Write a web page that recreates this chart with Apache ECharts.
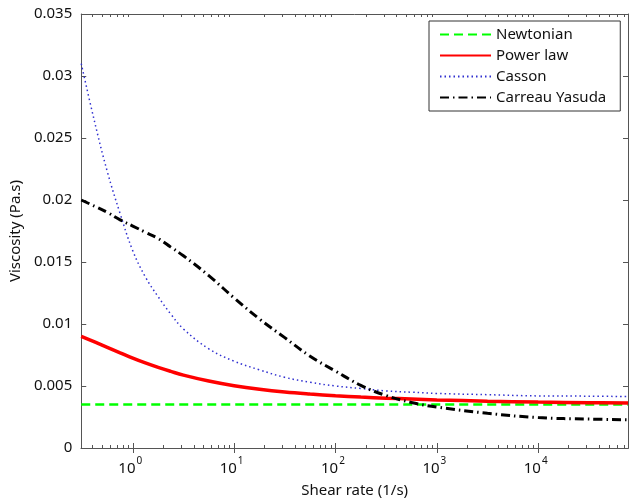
<!DOCTYPE html>
<html>
<head>
<meta charset="utf-8">
<script src="https://cdn.jsdelivr.net/npm/echarts@6/dist/echarts.min.js"></script>
<style>
  html, body { margin: 0; padding: 0; background: #fff; }
  #chart { width: 639px; height: 504px; }
</style>
</head>
<body>
<div id="chart"></div>
<script>
// shear rate samples (1/s)
const shearRate = [0.31, 0.42, 0.56, 0.75, 1, 1.33, 1.78, 2.37, 3.16, 5.62, 10, 17.8, 31.6, 56.2,
  100, 178, 316, 562, 1000, 3162, 10000, 31623, 77000]

// viscosity (Pa.s) for each model
const newtonian = [0.0035, 0.0035, 0.0035, 0.0035, 0.0035, 0.0035, 0.0035, 0.0035, 0.0035, 0.0035, 0.0035, 0.0035,
  0.0035, 0.0035, 0.0035, 0.0035, 0.0035, 0.0035, 0.0035, 0.0035, 0.0035, 0.0035, 0.0035]
const powerLaw = [0.00900, 0.00855, 0.00812, 0.00768, 0.00725, 0.00686, 0.00650, 0.00618, 0.00588, 0.00540,
  0.00502, 0.00473, 0.00451, 0.00435, 0.00422, 0.00411, 0.00402, 0.00395, 0.00388, 0.00378, 0.00370,
  0.00365, 0.00362]
const casson = [0.0310, 0.0263, 0.0223, 0.0189, 0.0159, 0.0138, 0.0122, 0.0108, 0.0096, 0.0080, 0.0070,
  0.0063, 0.0057, 0.0053, 0.0050, 0.0048, 0.0046, 0.0045, 0.0044, 0.0043, 0.0042, 0.00418, 0.00415]
const carreauYasuda = [0.0200, 0.0195, 0.0190, 0.0184, 0.0179, 0.0174, 0.0169, 0.0162, 0.0155, 0.0139, 0.0121,
  0.0104, 0.0089, 0.0074, 0.0062, 0.00505, 0.00423, 0.00367, 0.0033, 0.0028, 0.00245, 0.00233, 0.00228]

const seriesNames = ['Newtonian', 'Power law', 'Casson', 'Carreau Yasuda']
const xMajorTicks = [1, 10, 100, 1000, 10000]
const xMinorSteps = [2, 3, 4, 5, 6, 7, 8, 9]
const yTicks = { min: 0, max: 0.035, step: 0.005 }

// minor tick positions between the decades (0.3 .. 90000)
const xMinorTicks = []
;[0.1, 1, 10, 100, 1000, 10000].forEach((d) => {
  xMinorSteps.forEach((m) => {
    const v = d * m
    if (v >= shearRate[0] && v <= shearRate[shearRate.length - 1]) xMinorTicks.push(v)
  })
})

const font = 'Noto Sans'
const axisColor = '#555'
const textColor = '#111'

function pairs(values) {
  return shearRate.map((x, i) => [x, values[i]])
}

const chart = echarts.init(document.getElementById('chart'), null, { renderer: 'canvas' })

function xAxisOf(position, ticks, tickLen, withLabels) {
  const axis = {
    type: 'log',
    position: position,
    min: shearRate[0],
    max: shearRate[shearRate.length - 1],
    axisLine: { show: true, lineStyle: { color: axisColor, width: 1 } },
    axisTick: { show: true, inside: true, length: tickLen, customValues: ticks, lineStyle: { color: axisColor } },
    axisLabel: { show: false },
    splitLine: { show: false },
  }
  if (withLabels) {
    axis.name = 'Shear rate (1/s)'
    axis.nameLocation = 'middle'
    axis.nameGap = 33
    axis.nameTextStyle = { fontFamily: font, fontSize: 15, color: textColor }
    axis.axisLabel = {
      show: true,
      margin: 8,
      customValues: ticks,
      formatter: (v) => '{b|10}{sup|' + Math.round(Math.log10(v)) + '}',
      rich: {
        b: { fontFamily: font, fontSize: 15, color: textColor, lineHeight: 20, verticalAlign: 'bottom' },
        sup: { fontFamily: font, fontSize: 10, color: textColor, lineHeight: 10, verticalAlign: 'top', padding: [0, 5, 12, 1] },
      },
    }
  }
  return axis
}

function yAxisOf(position, withLabels) {
  const axis = {
    type: 'value',
    position: position,
    min: yTicks.min,
    max: yTicks.max,
    interval: yTicks.step,
    axisLine: { show: true, lineStyle: { color: axisColor, width: 1 } },
    axisTick: { show: true, inside: true, length: 5, lineStyle: { color: axisColor } },
    axisLabel: { show: false },
    splitLine: { show: false },
  }
  if (withLabels) {
    axis.name = 'Viscosity (Pa.s)'
    axis.nameLocation = 'middle'
    axis.nameGap = 58
    axis.nameTextStyle = { fontFamily: font, fontSize: 15, color: textColor }
    axis.axisLabel = { show: true, margin: 9, fontFamily: font, fontSize: 15, color: textColor }
  }
  return axis
}

const option = {
  animation: false,
  textStyle: { fontFamily: font },
  grid: { left: 77, right: 11, top: 14, bottom: 56, containLabel: false },
  legend: {
    data: seriesNames,
    orient: 'vertical',
    left: 429,
    top: 21,
    padding: [6, 14, 6, 10],
    itemGap: 6,
    itemWidth: 51,
    itemHeight: 15,
    backgroundColor: '#fff',
    borderColor: '#333',
    borderWidth: 1,
    borderRadius: 0,
    itemStyle: { color: 'rgba(0,0,0,0)', borderWidth: 0, opacity: 0 },
    textStyle: { fontFamily: font, fontSize: 15, color: textColor },
  },
  xAxis: [
    xAxisOf('bottom', xMajorTicks, 5, true),
    xAxisOf('top', xMajorTicks, 5, false),
    xAxisOf('bottom', xMinorTicks, 3, false),
    xAxisOf('top', xMinorTicks, 3, false),
  ],
  yAxis: [
    yAxisOf('left', true),
    yAxisOf('right', false),
  ],
  series: [
    {
      name: seriesNames[0],
      type: 'line',
      data: pairs(newtonian),
      symbol: 'none',
      lineStyle: { color: '#00ff00', width: 2.5, type: [9, 5] },
      itemStyle: { color: '#00ff00' },
      z: 2,
    },
    {
      name: seriesNames[1],
      type: 'line',
      data: pairs(powerLaw),
      smooth: 0.4,
      symbol: 'none',
      lineStyle: { color: '#ff0000', width: 3.5 },
      itemStyle: { color: '#ff0000' },
      z: 3,
    },
    {
      name: seriesNames[2],
      type: 'line',
      data: pairs(casson),
      smooth: 0.4,
      symbol: 'none',
      lineStyle: { color: '#3030d0', width: 1.5, type: [1.5, 3] },
      itemStyle: { color: '#3030d0' },
      z: 4,
    },
    {
      name: seriesNames[3],
      type: 'line',
      data: pairs(carreauYasuda),
      smooth: 0.4,
      symbol: 'none',
      lineStyle: { color: '#000', width: 3, type: [9, 4, 1.5, 4] },
      itemStyle: { color: '#000' },
      z: 5,
    },
  ],
}

chart.setOption(option)
</script>
</body>
</html>
